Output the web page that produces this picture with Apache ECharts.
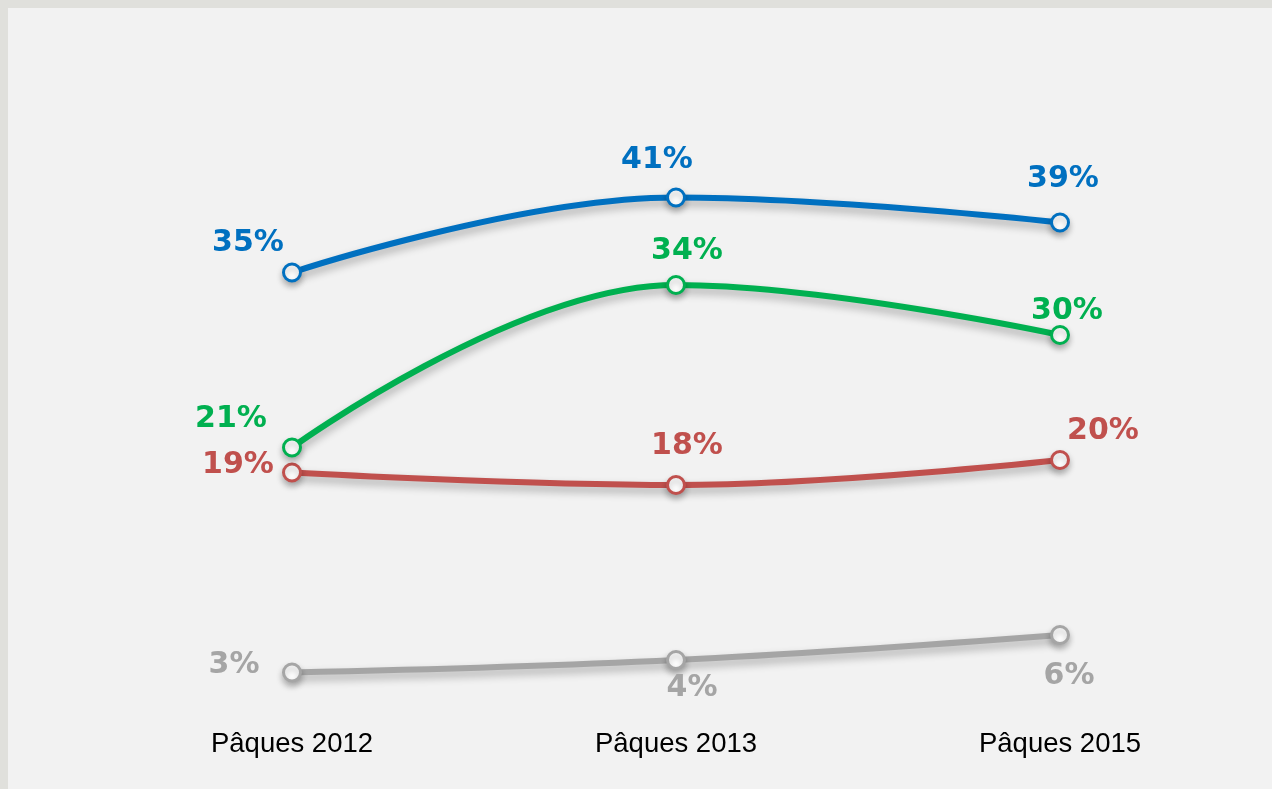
<!DOCTYPE html>
<html>
<head>
<meta charset="utf-8">
<script src="https://cdn.jsdelivr.net/npm/echarts@6/dist/echarts.min.js"></script>
<style>
  html, body { margin: 0; padding: 0; background: #e0e0dc; }
  #main { position: absolute; left: 8px; top: 8px; width: 1264px; height: 781px; background: #f2f2f2; }
</style>
</head>
<body>
<div id="main"></div>
<script>
// categories + values
const categories = ['Pâques 2012', 'Pâques 2013', 'Pâques 2015']
const blueValues = [35, 41, 39]
const greenValues = [21, 34, 30]
const redValues = [19, 18, 20]
const greyValues = [3, 4, 6]

// where each data label sits relative to its point (px)
const blueOffsets = [[-44, -29], [-19, -37], [3, -43]]
const greenOffsets = [[-61, -28], [11, -34], [7, -24]]
const redOffsets = [[-54, -7], [11, -39], [43, -29]]
const greyOffsets = [[-58, -7], [16, 28], [9, 41]]

function makeSeries(name, values, offsets, color) {
  return {
    name: name,
    type: 'line',
    smooth: 0.4,
    symbol: 'circle',
    symbolSize: 17,
    data: values.map((v, i) => ({
      value: v,
      label: { offset: offsets[i] }
    })),
    lineStyle: {
      color: color,
      width: 6,
      shadowColor: 'rgba(0,0,0,0.3)',
      shadowBlur: 8,
      shadowOffsetY: 5
    },
    itemStyle: {
      color: '#ffffff',
      borderColor: color,
      borderWidth: 3,
      shadowColor: 'rgba(0,0,0,0.25)',
      shadowBlur: 6,
      shadowOffsetY: 4
    },
    label: {
      show: true,
      position: 'inside',
      align: 'center',
      verticalAlign: 'middle',
      formatter: '{c}%',
      color: color,
      fontFamily: 'DejaVu Sans',
      fontWeight: 'bold',
      fontSize: 30
    },
    emphasis: { disabled: true }
  }
}

const chart = echarts.init(document.getElementById('main'))
chart.setOption({
  animation: false,
  backgroundColor: '#f2f2f2',
  grid: { left: 92, right: 20, top: 77, bottom: 79 },
  xAxis: {
    type: 'category',
    data: categories,
    boundaryGap: true,
    axisLine: { show: false },
    axisTick: { show: false },
    axisLabel: {
      margin: 20,
      color: '#000000',
      fontFamily: 'Liberation Sans',
      fontSize: 27.5
    }
  },
  yAxis: {
    type: 'value',
    min: 0,
    max: 50,
    show: false
  },
  series: [
    makeSeries('gris', greyValues, greyOffsets, '#a5a5a5'),
    makeSeries('rouge', redValues, redOffsets, '#c0504d'),
    makeSeries('vert', greenValues, greenOffsets, '#00b050'),
    makeSeries('bleu', blueValues, blueOffsets, '#0070c0')
  ]
})
</script>
</body>
</html>
